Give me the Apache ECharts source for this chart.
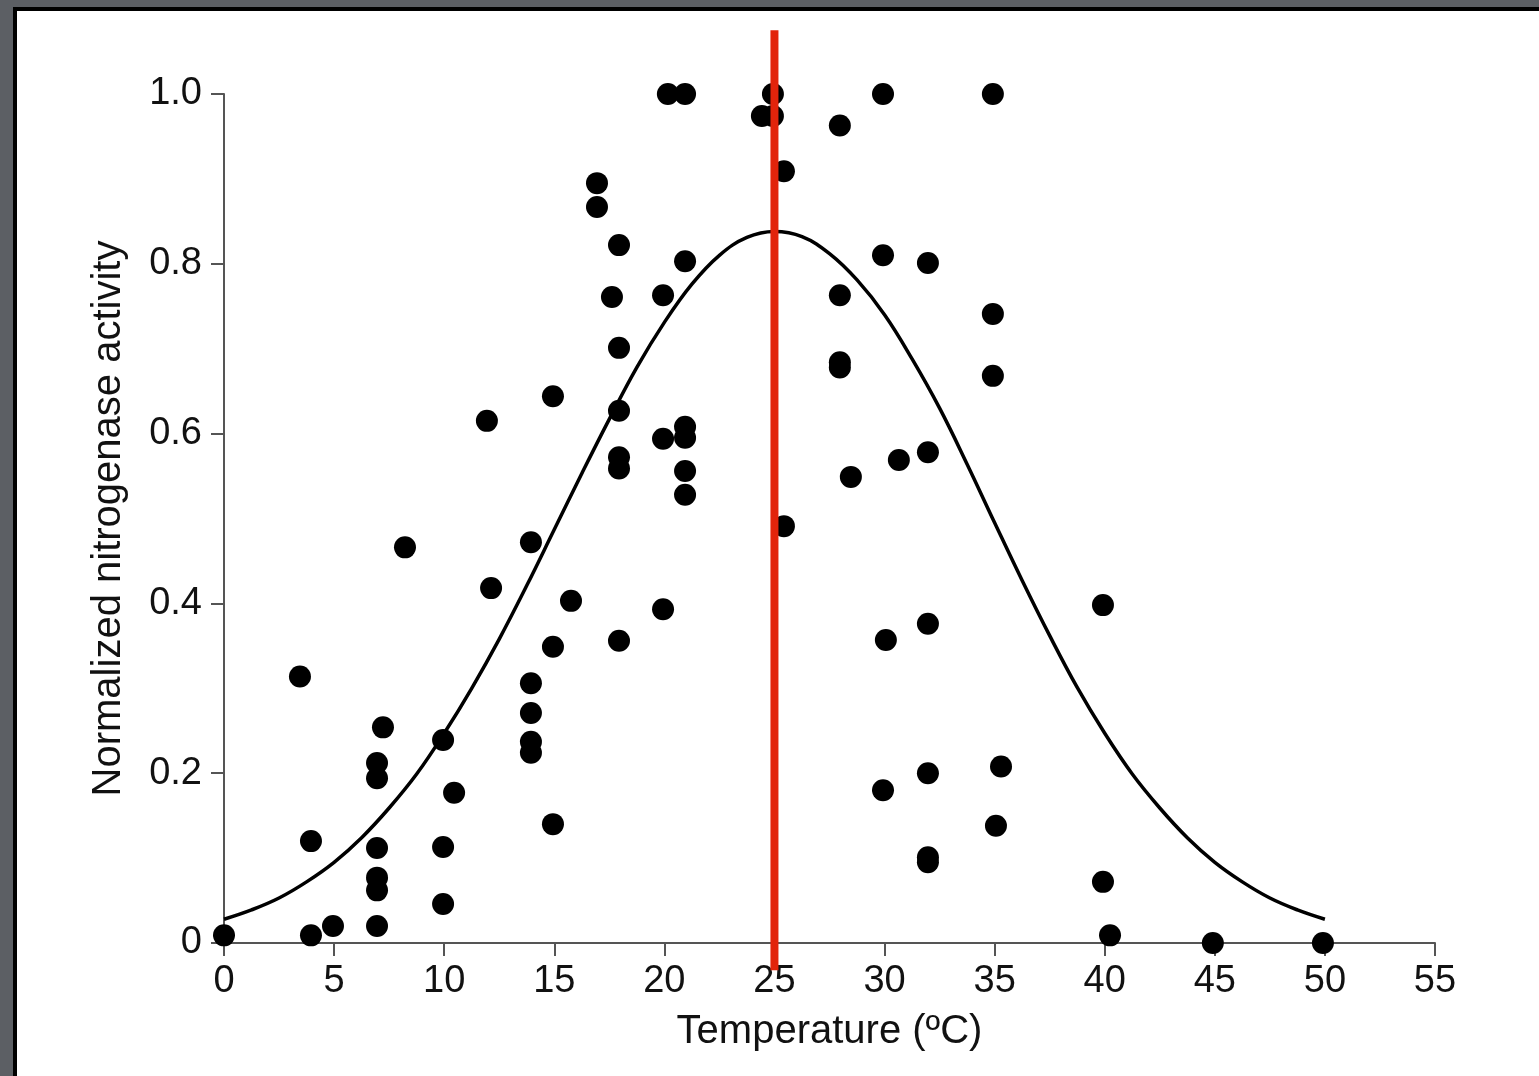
<!DOCTYPE html>
<html>
<head>
<meta charset="utf-8">
<script src="https://cdn.jsdelivr.net/npm/echarts@6/dist/echarts.min.js"></script>
<style>
  html, body { margin: 0; padding: 0; width: 1539px; height: 1076px; overflow: hidden; background: #5c5f64; }
  #frame { position: absolute; left: 13px; top: 7px; width: 1526px; height: 1069px; background: #fff; border-left: 4px solid #000; border-top: 4px solid #000; box-sizing: border-box; }
  #chart { position: absolute; left: 0; top: 0; width: 1539px; height: 1076px; }
</style>
</head>
<body>
<div id="frame"></div>
<div id="chart"></div>
<script>
// Measured data points: temperature (ºC) and normalized nitrogenase activity
const temperature = [
  0, 3.45, 3.95, 3.95, 4.95,
  6.95, 6.95, 6.95, 6.95, 6.95, 6.95, 7.22, 8.22,
  9.95, 9.95, 9.95, 10.45, 11.94, 12.13,
  13.94, 13.94, 13.94, 13.94, 13.94,
  14.94, 14.94, 14.94, 15.76,
  16.94, 16.94, 17.62, 17.94, 17.94, 17.94, 17.94, 17.94, 17.94,
  19.94, 19.94, 19.94, 20.16,
  20.94, 20.94, 20.94, 20.94, 20.94, 20.94,
  24.43, 24.93, 24.93, 25.43, 25.43,
  27.97, 27.97, 27.97, 27.97, 28.47,
  29.93, 29.93, 30.06, 29.93, 30.65,
  31.97, 31.97, 31.97, 31.97, 31.97, 31.97,
  34.92, 34.92, 34.92, 35.29, 35.06,
  39.92, 39.92, 40.24, 44.91, 49.91
];
const activity = [
  0.009, 0.314, 0.120, 0.009, 0.020,
  0.212, 0.194, 0.112, 0.077, 0.062, 0.020, 0.254, 0.466,
  0.239, 0.113, 0.046, 0.177, 0.615, 0.418,
  0.472, 0.306, 0.271, 0.237, 0.224,
  0.644, 0.349, 0.140, 0.403,
  0.895, 0.867, 0.761, 0.822, 0.701, 0.627, 0.572, 0.559, 0.356,
  0.763, 0.594, 0.393, 1.000,
  1.000, 0.803, 0.608, 0.595, 0.556, 0.528,
  0.974, 1.000, 0.974, 0.909, 0.491,
  0.963, 0.763, 0.684, 0.678, 0.549,
  1.000, 0.810, 0.357, 0.180, 0.569,
  0.801, 0.578, 0.376, 0.200, 0.101, 0.095,
  1.000, 0.741, 0.668, 0.208, 0.138,
  0.398, 0.072, 0.009, 0.000, 0.000
];
// Fitted curve
const curveX = [0, 1.25, 2.5, 3.75, 5, 6.25, 7.5, 8.75, 10, 11.25, 12.5, 13.75, 15, 16.25, 17.5, 18.75, 20, 21.25, 22.5, 23.75, 25,
  26.25, 27.5, 28.75, 30, 31.25, 32.5, 33.75, 35, 36.25, 37.5, 38.75, 40, 41.25, 42.5, 43.75, 45, 46.25, 47.5, 48.75, 50];
const curveY = [0.028, 0.039, 0.053, 0.072, 0.095, 0.124, 0.159, 0.199, 0.247, 0.300, 0.358, 0.421, 0.487, 0.553, 0.617, 0.678, 0.731, 0.776, 0.810, 0.831, 0.838,
  0.832, 0.812, 0.781, 0.740, 0.688, 0.630, 0.564, 0.495, 0.427, 0.362, 0.301, 0.247, 0.199, 0.159, 0.124, 0.095, 0.072, 0.053, 0.039, 0.028];
// Red optimum marker at 25 ºC
const optimumX = [25, 25];
const optimumY = [-0.032, 1.075];
const xTicks = [0, 5, 10, 15, 20, 25, 30, 35, 40, 45, 50, 55];
const yTicks = ['0', '0.2', '0.4', '0.6', '0.8', '1.0'];

const font = 'Liberation Sans, Arial, Helvetica, sans-serif';
const chart = echarts.init(document.getElementById('chart'), null, { renderer: 'canvas' });
chart.setOption({
  backgroundColor: 'transparent',
  animation: false,
  grid: { left: 224, right: 104, top: 94, bottom: 133, containLabel: false },
  xAxis: {
    type: 'value', min: 0, max: 55, interval: 5,
    name: 'Temperature (ºC)', nameLocation: 'middle', nameGap: 69,
    nameTextStyle: { fontFamily: font, fontSize: 40, color: '#111' },
    axisLine: { show: true, lineStyle: { color: '#555', width: 2 } },
    axisTick: { show: true, length: 13, lineStyle: { color: '#555', width: 2 } },
    axisLabel: { margin: 20, fontFamily: font, fontSize: 38, color: '#111',
      formatter: v => String(xTicks[Math.round(v / 5)]) },
    splitLine: { show: false }
  },
  yAxis: {
    type: 'value', min: 0, max: 1, interval: 0.2,
    name: 'Normalized nitrogenase activity', nameLocation: 'middle', nameGap: 95,
    nameTextStyle: { fontFamily: font, fontSize: 40, color: '#111' },
    axisLine: { show: true, lineStyle: { color: '#555', width: 2 } },
    axisTick: { show: true, length: 13, lineStyle: { color: '#555', width: 2 } },
    axisLabel: { margin: 22, fontFamily: font, fontSize: 38, color: '#111',
      formatter: v => yTicks[Math.round(v / 0.2)] },
    splitLine: { show: false }
  },
  series: [
    {
      type: 'line', smooth: 0.4, symbol: 'none',
      data: curveX.map((x, i) => [x, curveY[i]]),
      lineStyle: { color: '#000', width: 3.5 }, z: 2
    },
    {
      type: 'scatter', symbol: 'circle', symbolSize: 22,
      data: temperature.map((x, i) => [x, activity[i]]),
      itemStyle: { color: '#000', opacity: 1 }, z: 3
    },
    {
      type: 'line', symbol: 'none', clip: false,
      data: optimumX.map((x, i) => [x, optimumY[i]]),
      lineStyle: { color: '#e2240b', width: 8 }, z: 4
    }
  ]
});
</script>
</body>
</html>
